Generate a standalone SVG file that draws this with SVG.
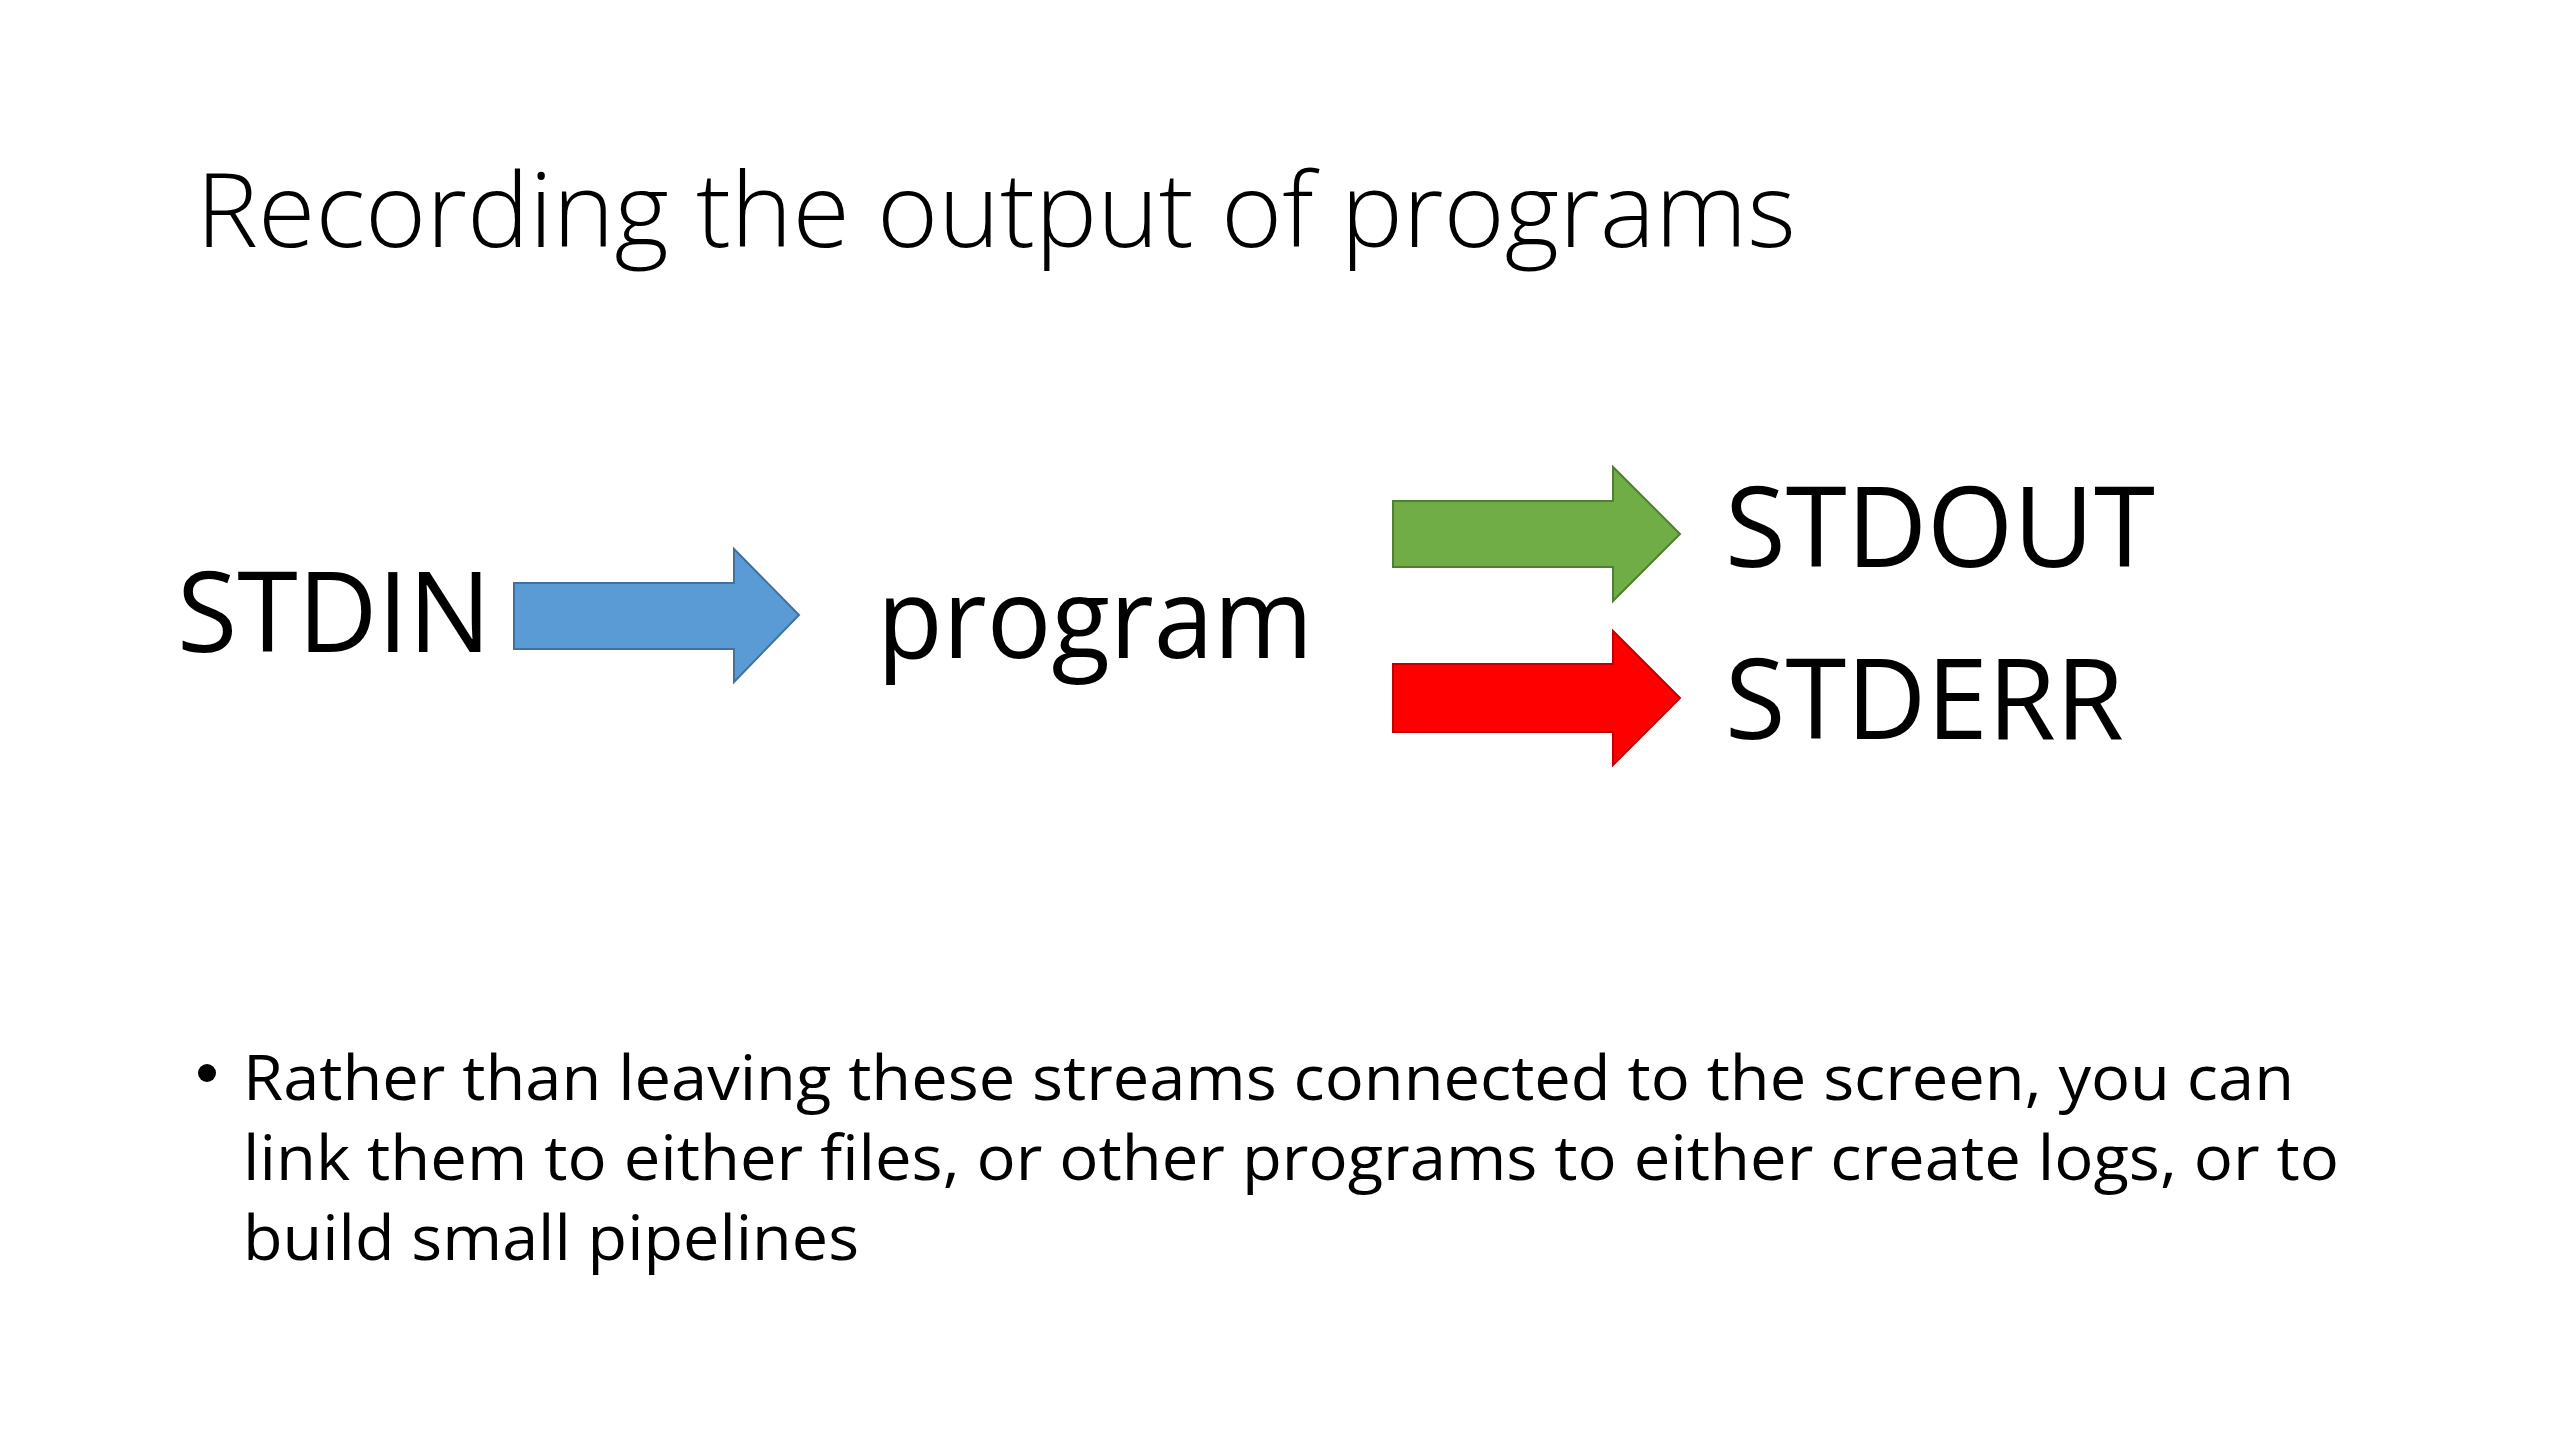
<svg xmlns="http://www.w3.org/2000/svg" width="2560" height="1440" viewBox="0 0 2560 1440">
<style>
  .t { font-family: "Open Sans", "Liberation Sans", sans-serif; fill: #000; }
  .title { font-size: 104px; font-weight: 300; }
  .big { font-size: 112px; font-weight: 400; }
  .body { font-size: 63px; font-weight: 400; }
  .arrow { stroke-width: 2; stroke-linejoin: miter; }
</style>
<rect width="2560" height="1440" fill="#ffffff"/>
<g id="title">
  <text class="t title" x="196" y="247" textLength="1600" lengthAdjust="spacingAndGlyphs">Recording the output of programs</text>
</g>
<g id="node-stdin">
  <text class="t big" x="177" y="652" textLength="314" lengthAdjust="spacingAndGlyphs">STDIN</text>
</g>
<g id="node-program">
  <text class="t big" x="877" y="658" textLength="436" lengthAdjust="spacingAndGlyphs">program</text>
</g>
<g id="node-stdout">
  <text class="t big" x="1725" y="567" textLength="430" lengthAdjust="spacingAndGlyphs">STDOUT</text>
</g>
<g id="node-stderr">
  <text class="t big" x="1725" y="739" textLength="399" lengthAdjust="spacingAndGlyphs">STDERR</text>
</g>
<g id="connectors">
  <path class="arrow" d="M514,583 H734 V549 L799,615 L734,682 V649 H514 Z" fill="#5B9BD5" stroke="#41719C"/>
  <path class="arrow" d="M1393,501 H1613 V467 L1680,534 L1613,601 V567 H1393 Z" fill="#70AD47" stroke="#507E32"/>
  <path class="arrow" d="M1393,664 H1613 V631 L1680,698 L1613,765 V732 H1393 Z" fill="#FF0000" stroke="#C00000"/>
</g>
<g id="bullet">
  <circle cx="207" cy="1073" r="9" fill="#000"/>
  <text class="t body" x="243" y="1100" textLength="2051" lengthAdjust="spacingAndGlyphs">Rather than leaving these streams connected to the screen, you can</text>
  <text class="t body" x="243" y="1180" textLength="2096" lengthAdjust="spacingAndGlyphs">link them to either files, or other programs to either create logs, or to</text>
  <text class="t body" x="243" y="1260" textLength="616" lengthAdjust="spacingAndGlyphs">build small pipelines</text>
</g>
</svg>
